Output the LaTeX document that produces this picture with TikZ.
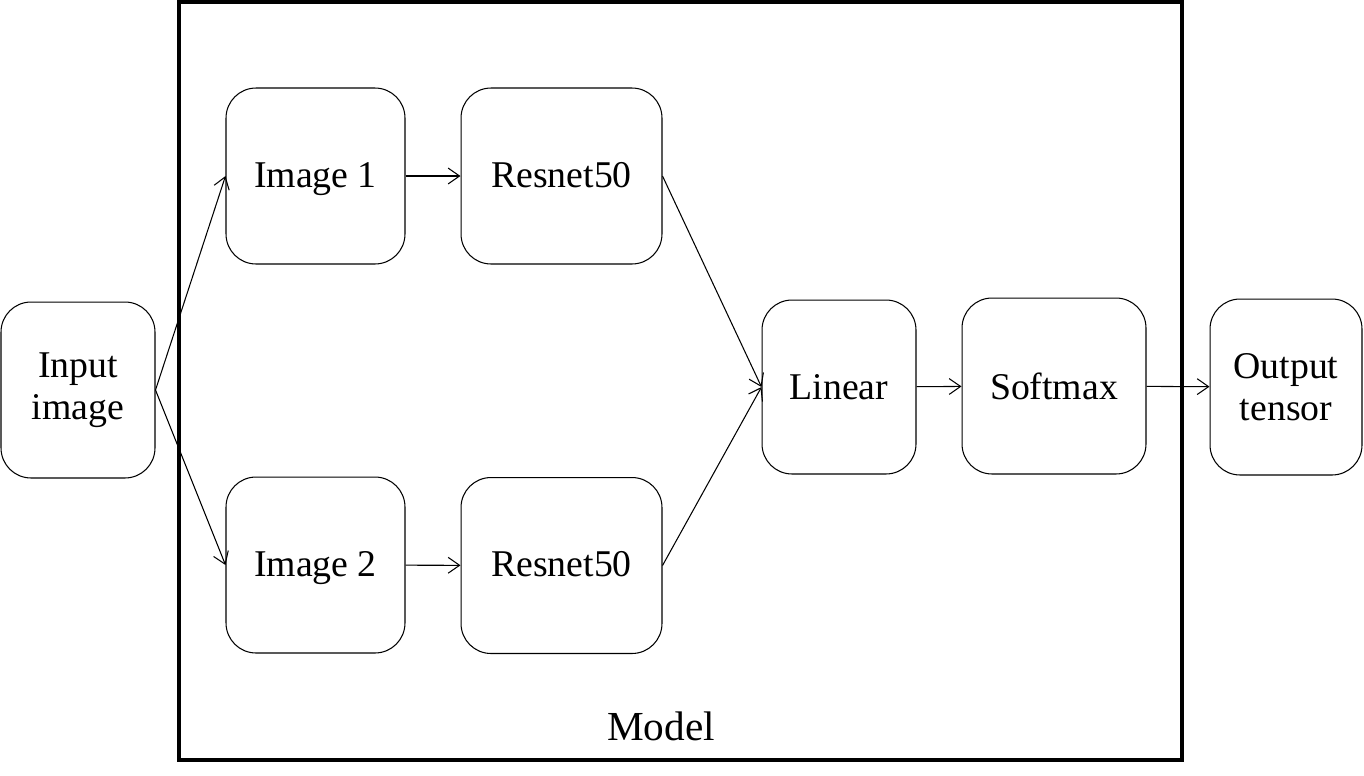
\documentclass[tikz,border=0pt]{standalone}
\usepackage{fontspec}
\setmainfont{Liberation Serif}
\usetikzlibrary{shapes,arrows.meta}

\tikzset{
  blk/.style={draw, line width=0.6pt, rounded corners=0.6cm, align=center,
    font=\fontsize{21.5}{24}\selectfont, minimum height=3.52cm},
  one/.style={text height=1.46em, text depth=0.2em},
  link/.style={line width=0.6pt, -{Straight Barb[length=6.5pt,width=9pt]}}
}

\begin{document}
\begin{tikzpicture}[x=0.02cm, y=-0.02cm]
\useasboundingbox (0,0) rectangle (1364,775);
% model frame
\draw [line width=2.3pt] (179,2) rectangle (1182,760);
\node (model) at (661,726) {\fontsize{23.5}{26}\selectfont Model};
% blocks
\node [blk, minimum width=3.08cm] (input) at (78,390) {Input\\image};
\node [blk, one, minimum width=3.58cm] (img1) at (315.5,176) {Image 1};
\node [blk, one, minimum width=4.02cm] (res1) at (561.5,176) {Resnet50};
\node [blk, one, minimum width=3.58cm] (img2) at (315.5,565) {Image 2};
\node [blk, one, minimum width=4.02cm] (res2) at (561.5,565.5) {Resnet50};
\node [blk, minimum width=3.08cm, minimum height=3.48cm] (linear) at (839,387) {Linear};
\node [blk, minimum width=3.68cm] (softmax) at (1054,386) {Softmax};
\node [blk, minimum width=3.04cm] (output) at (1286,387) {Output\\tensor};
% connectors
\draw [link] (input.east) -- (img1.west);
\draw [link] (input.east) -- (img2.west);
\draw [link] (img1) -- (res1);
\draw [link] (img2) -- (res2);
\draw [link] (res1.east) -- (linear.west);
\draw [link] (res2.east) -- (linear.west);
\draw [link] (linear) -- (softmax);
\draw [link] (softmax) -- (output);
\end{tikzpicture}
\end{document}
